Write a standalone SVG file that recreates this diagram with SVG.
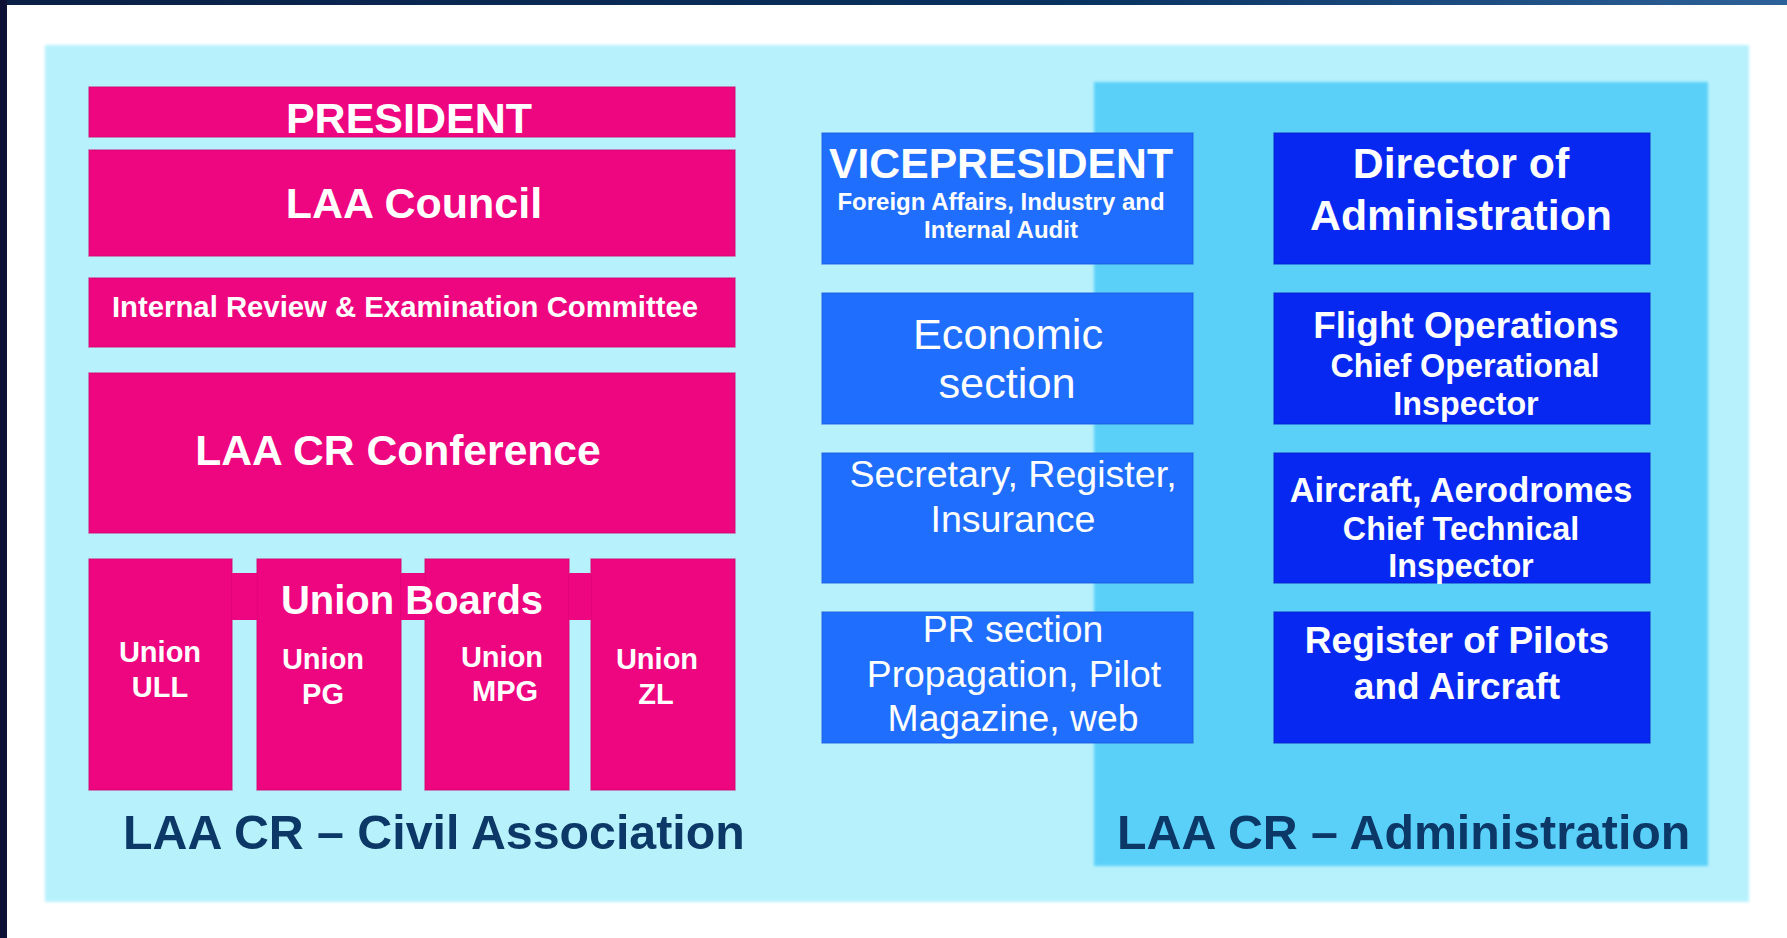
<svg xmlns="http://www.w3.org/2000/svg" width="1787" height="938" viewBox="0 0 1787 938">
<defs>
<linearGradient id="topband" x1="0" y1="0" x2="1" y2="0">
<stop offset="0" stop-color="#0b1f45"/>
<stop offset="0.6" stop-color="#08325f"/>
<stop offset="1" stop-color="#2d6199"/>
</linearGradient>
<filter id="soft" x="-2%" y="-2%" width="104%" height="104%">
<feGaussianBlur stdDeviation="1.5"/>
</filter>
</defs>
<style>
.pink{fill:#EE0580;stroke:#D4056F;stroke-width:1.5;stroke-opacity:0.6}
.vp{fill:#1F6EFE;stroke:#1A5FE0;stroke-width:1.5;stroke-opacity:0.6}
.dir{fill:#0628F0;stroke:#0420C8;stroke-width:1.5;stroke-opacity:0.6}
text{font-family:"Liberation Sans",Arial,sans-serif;fill:#ffffff;text-anchor:middle}
.b{font-weight:bold}
.title{font-weight:bold;font-size:48.3px;fill:#0B3867;text-anchor:start}
</style>
<rect x="0" y="0" width="1787" height="938" fill="#ffffff"/>
<rect x="0" y="0" width="1787" height="5" fill="url(#topband)"/>
<rect x="0" y="0" width="7" height="938" fill="#0c1135"/>

<g id="panels">
<rect x="45" y="45" width="1704" height="857" fill="#B7F1FC" filter="url(#soft)"/>
<rect x="1094" y="82" width="614" height="784" fill="#5AD0F9" filter="url(#soft)"/>
</g>

<g id="connectors"></g>

<g id="president">
<rect class="pink" x="89" y="87" width="646" height="50"/>
<text class="b" x="409" y="133" font-size="43">PRESIDENT</text>
</g>
<g id="council">
<rect class="pink" x="89" y="150" width="646" height="106"/>
<text class="b" x="414" y="218" font-size="43">LAA Council</text>
</g>
<g id="review">
<rect class="pink" x="89" y="278" width="646" height="69"/>
<text class="b" x="405" y="317" font-size="29.3">Internal Review &amp; Examination Committee</text>
</g>
<g id="conference">
<rect class="pink" x="89" y="373" width="646" height="160"/>
<text class="b" x="398" y="465" font-size="42.6">LAA CR Conference</text>
</g>
<g id="union-boards">
<rect x="89" y="573" width="646" height="47" fill="#EE0580"/>
<rect class="pink" x="89" y="559" width="143" height="231"/>
<rect class="pink" x="257" y="559" width="144" height="231"/>
<rect class="pink" x="425" y="559" width="144" height="231"/>
<rect class="pink" x="591" y="559" width="144" height="231"/>
<rect x="232" y="573.5" width="25" height="46" fill="#EE0580"/>
<rect x="401" y="573.5" width="24" height="46" fill="#EE0580"/>
<rect x="569" y="573.5" width="22" height="46" fill="#EE0580"/>
<text class="b" x="412" y="614" font-size="40">Union Boards</text>
</g>
<g id="union-ull">
<text class="b" x="160" y="662" font-size="29">Union</text>
<text class="b" x="160" y="697" font-size="29">ULL</text>
</g>
<g id="union-pg">
<text class="b" x="323" y="669" font-size="29">Union</text>
<text class="b" x="323" y="704" font-size="29">PG</text>
</g>
<g id="union-mpg">
<text class="b" x="502" y="667" font-size="29">Union</text>
<text class="b" x="505" y="701" font-size="29">MPG</text>
</g>
<g id="union-zl">
<text class="b" x="657" y="669" font-size="29">Union</text>
<text class="b" x="656" y="704" font-size="29">ZL</text>
</g>

<g id="vicepresident">
<rect class="vp" x="822" y="133" width="371" height="131"/>
<text class="b" x="1001" y="178" font-size="42.7">VICEPRESIDENT</text>
<text class="b" x="1001" y="210" font-size="24">Foreign Affairs, Industry and</text>
<text class="b" x="1001" y="238" font-size="24">Internal Audit</text>
</g>
<g id="economic">
<rect class="vp" x="822" y="293" width="371" height="131"/>
<text x="1008" y="349" font-size="43.3">Economic</text>
<text x="1007" y="398" font-size="43.3">section</text>
</g>
<g id="secretary">
<rect class="vp" x="822" y="453" width="371" height="130"/>
<text x="1013" y="487" font-size="37.6">Secretary, Register,</text>
<text x="1013" y="532" font-size="37.6">Insurance</text>
</g>
<g id="pr">
<rect class="vp" x="822" y="612" width="371" height="131"/>
<text x="1013" y="642" font-size="37.3">PR section</text>
<text x="1014" y="687" font-size="37.3">Propagation, Pilot</text>
<text x="1013" y="731" font-size="37.3">Magazine, web</text>
</g>

<g id="director">
<rect class="dir" x="1274" y="133" width="376" height="131"/>
<text class="b" x="1461" y="178" font-size="42.8">Director of</text>
<text class="b" x="1461" y="230" font-size="42.8">Administration</text>
</g>
<g id="flight-ops">
<rect class="dir" x="1274" y="293" width="376" height="131"/>
<text class="b" x="1466" y="338" font-size="36.9">Flight Operations</text>
<text class="b" x="1465" y="377" font-size="32.3">Chief Operational</text>
<text class="b" x="1466" y="415" font-size="32.3">Inspector</text>
</g>
<g id="aircraft">
<rect class="dir" x="1274" y="453" width="376" height="130"/>
<text class="b" x="1461" y="502" font-size="34.4">Aircraft, Aerodromes</text>
<text class="b" x="1461" y="540" font-size="32.3">Chief Technical</text>
<text class="b" x="1461" y="577" font-size="32.3">Inspector</text>
</g>
<g id="register">
<rect class="dir" x="1274" y="612" width="376" height="131"/>
<text class="b" x="1457" y="653" font-size="37">Register of Pilots</text>
<text class="b" x="1457" y="699" font-size="37">and Aircraft</text>
</g>

<g id="labels">
<text class="title" x="123" y="849">LAA CR – Civil Association</text>
<text class="title" x="1117" y="849">LAA CR – Administration</text>
</g>
</svg>
